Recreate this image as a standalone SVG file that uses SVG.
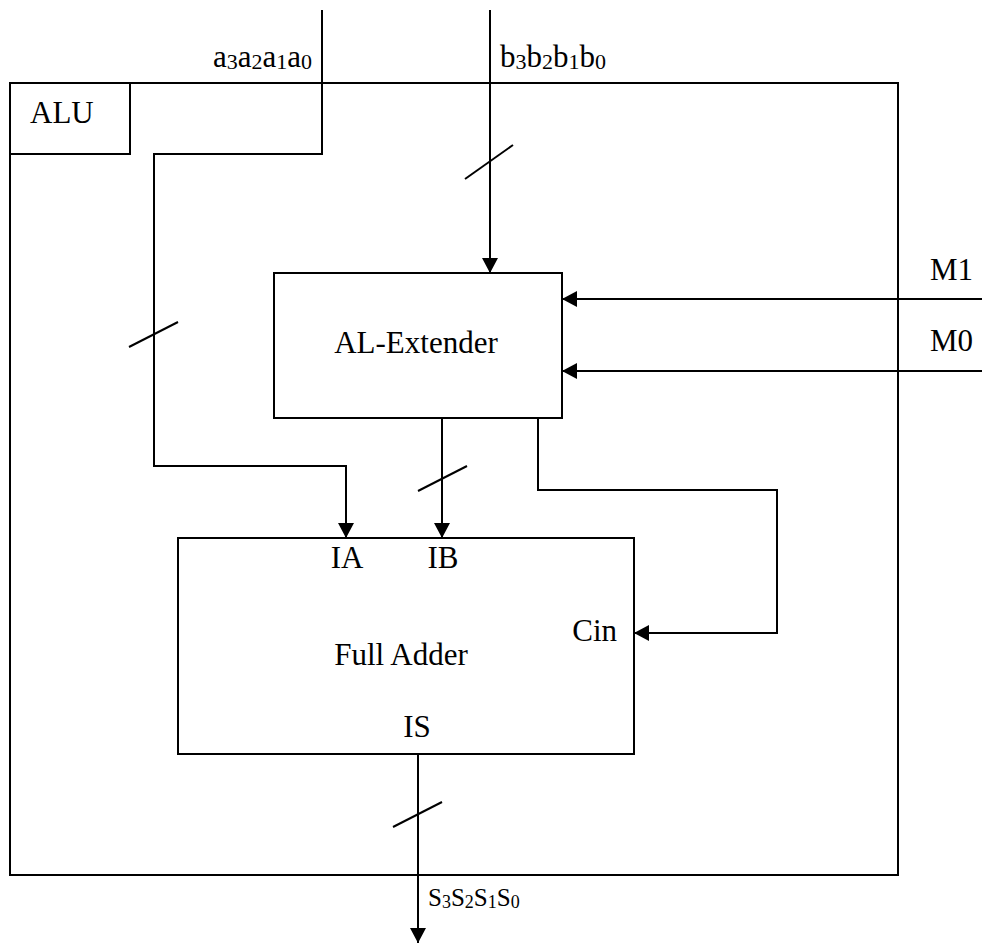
<svg xmlns="http://www.w3.org/2000/svg" width="982" height="943" viewBox="0 0 982 943">
<style>
.box{fill:none;stroke:#000;stroke-width:2}
.w{fill:none;stroke:#000;stroke-width:2}
.t{font-family:"Liberation Serif","Times New Roman",serif;font-size:31px;fill:#000}
.s{font-family:"Liberation Serif","Times New Roman",serif;font-size:25px;fill:#000}
</style>
<defs>
<marker id="ah" viewBox="0 0 15 16" refX="15" refY="8" markerWidth="15" markerHeight="16" markerUnits="userSpaceOnUse" orient="auto">
<path d="M0,0 L15,8 L0,16 z" fill="#000"/>
</marker>
</defs>
<rect width="982" height="943" fill="#fff"/>
<g id="alu">
<rect class="box" x="10" y="83" width="888" height="792"/>
<rect class="box" x="10" y="83" width="120" height="71"/>
<text class="t" x="30" y="123">ALU</text>
</g>
<g id="al-extender">
<rect class="box" x="274" y="273" width="288" height="145"/>
<text class="t" x="416" y="353" text-anchor="middle">AL-Extender</text>
</g>
<g id="full-adder">
<rect class="box" x="178" y="538" width="456" height="216"/>
<text class="t" x="401" y="665" text-anchor="middle">Full Adder</text>
<text class="t" x="347" y="568" text-anchor="middle">IA</text>
<text class="t" x="443" y="568" text-anchor="middle">IB</text>
<text class="t" x="617" y="641" text-anchor="end">Cin</text>
<text class="t" x="417" y="737" text-anchor="middle">IS</text>
</g>
<g id="connectors">
<path class="w" d="M322,10 V154 H154 V466 H346 V538" marker-end="url(#ah)"/>
<path class="w" d="M490,10 V273" marker-end="url(#ah)"/>
<path class="w" d="M442,418 V538" marker-end="url(#ah)"/>
<path class="w" d="M538,418 V490 H777 V633 H634" marker-end="url(#ah)"/>
<path class="w" d="M982,299 H562" marker-end="url(#ah)"/>
<path class="w" d="M982,371 H562" marker-end="url(#ah)"/>
<path class="w" d="M418,754 V943" marker-end="url(#ah)"/>
<line class="w" x1="129" y1="347" x2="178" y2="322"/>
<line class="w" x1="465" y1="179" x2="513" y2="145"/>
<line class="w" x1="418" y1="491" x2="467" y2="466"/>
<line class="w" x1="393" y1="827" x2="442" y2="802"/>
</g>
<g id="labels">
<text class="t" x="312" y="67" text-anchor="end">a<tspan font-size="22" dy="2">3</tspan><tspan dy="-2">a</tspan><tspan font-size="22" dy="2">2</tspan><tspan dy="-2">a</tspan><tspan font-size="22" dy="2">1</tspan><tspan dy="-2">a</tspan><tspan font-size="22" dy="2">0</tspan></text>
<text class="t" x="500" y="67">b<tspan font-size="22" dy="2">3</tspan><tspan dy="-2">b</tspan><tspan font-size="22" dy="2">2</tspan><tspan dy="-2">b</tspan><tspan font-size="22" dy="2">1</tspan><tspan dy="-2">b</tspan><tspan font-size="22" dy="2">0</tspan></text>
<text class="t" x="930" y="280">M1</text>
<text class="t" x="930" y="351">M0</text>
<text class="s" x="428" y="906">S<tspan font-size="18" dy="2">3</tspan><tspan dy="-2">S</tspan><tspan font-size="18" dy="2">2</tspan><tspan dy="-2">S</tspan><tspan font-size="18" dy="2">1</tspan><tspan dy="-2">S</tspan><tspan font-size="18" dy="2">0</tspan></text>
</g>
</svg>
